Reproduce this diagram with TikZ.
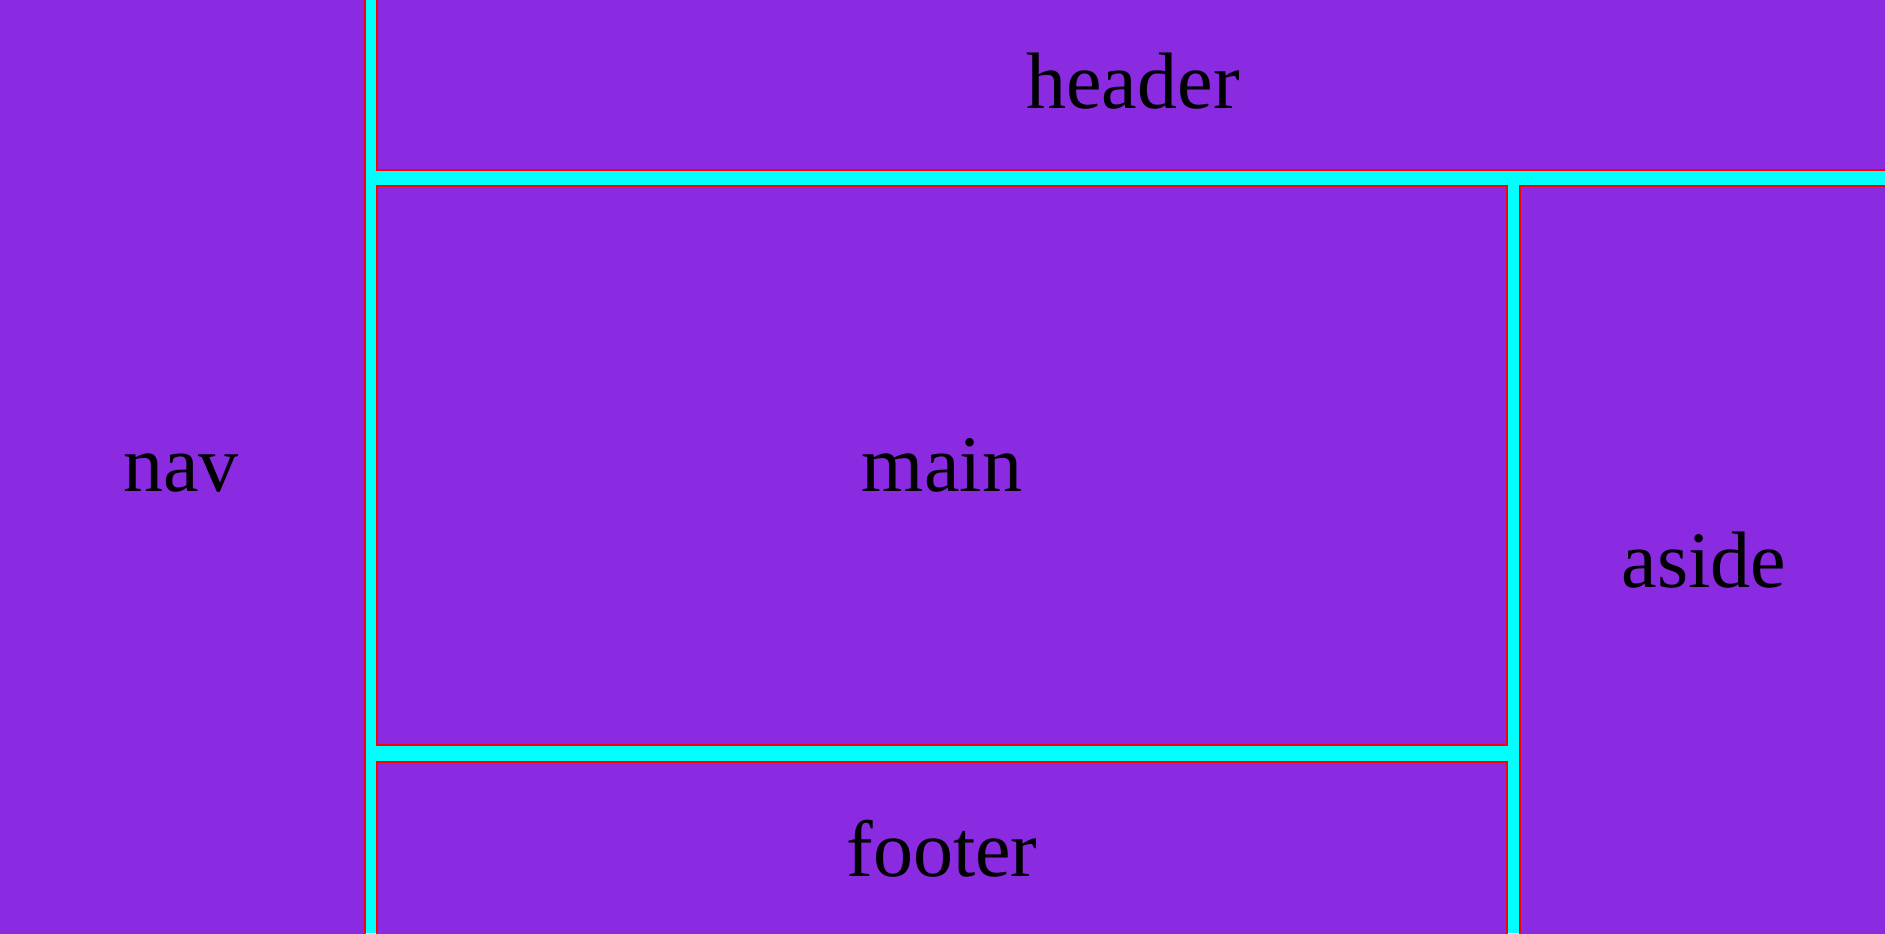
\documentclass[tikz,border=0pt]{standalone}
\usepackage{fontspec}
\setmainfont{Liberation Serif}
\usepackage{xcolor}
\definecolor{gridbg}{RGB}{0,255,255}
\definecolor{areafill}{RGB}{138,43,226}
\definecolor{arealine}{RGB}{255,0,0}

\begin{document}
\begin{tikzpicture}[
  x=0.01cm, y=-0.01cm,
  area/.style={fill=areafill,draw=arealine,line width=0.02cm},
  lbl/.style={anchor=base,inner sep=0pt,font=\fontsize{22.76}{27}\selectfont}
]
\useasboundingbox (0,0) rectangle (1885,933);
\clip (0,0) rectangle (1885,933);
\fill[gridbg] (0,0) rectangle (1885,933);
% grid areas
\draw[area] (-20,-20) rectangle (365,960);
\draw[area] (377,-20) rectangle (1905,170);
\draw[area] (377,186) rectangle (1507,745);
\draw[area] (377,762) rectangle (1507,960);
\draw[area] (1520,186) rectangle (1905,960);
% labels
\node[lbl] (nav)    at (181,491)  {nav};
\node[lbl] (header) at (1133,108) {header};
\node[lbl] (main)   at (942,491)  {main};
\node[lbl] (footer) at (942,876)  {footer};
\node[lbl] (aside)  at (1704,587) {aside};
\end{tikzpicture}
\end{document}
